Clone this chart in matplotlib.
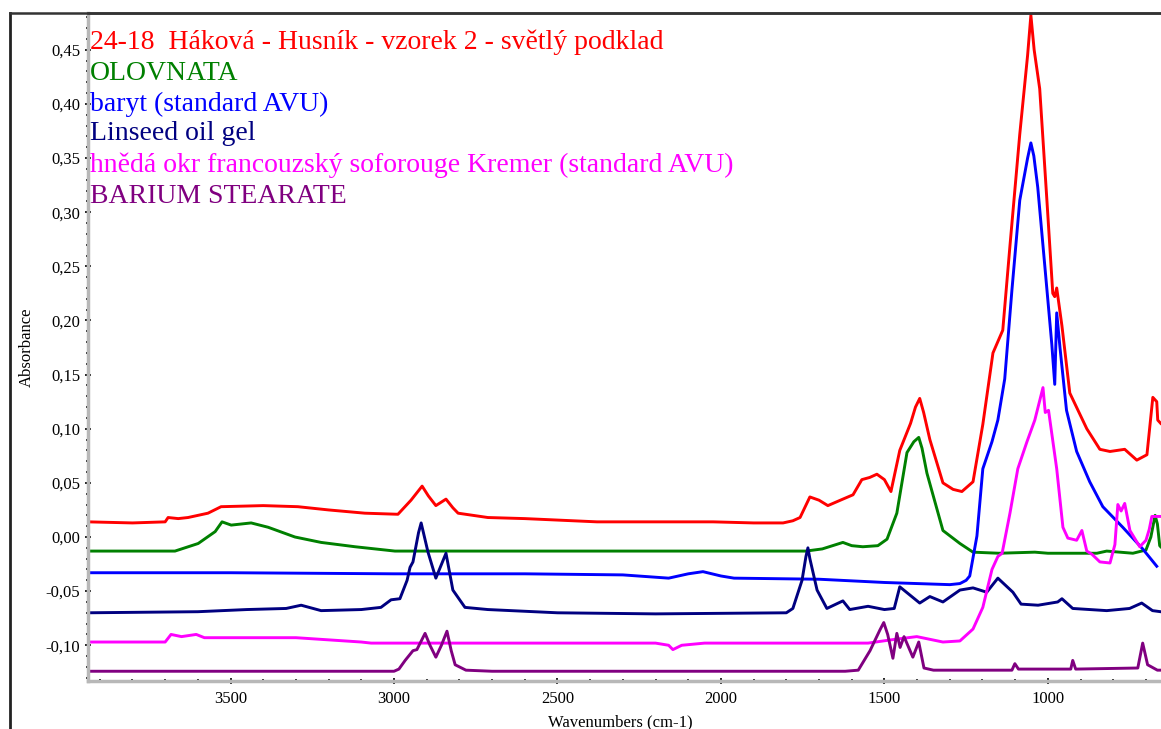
import matplotlib
matplotlib.use('Agg')
import matplotlib.pyplot as plt
from matplotlib.ticker import MultipleLocator, FuncFormatter
from matplotlib.lines import Line2D

plt.rcParams['font.family'] = ['Liberation Serif', 'DejaVu Serif']

# spectra: wavenumber (cm-1) / absorbance
red_w = [3936, 3800, 3700, 3691, 3660, 3630, 3569, 3529, 3400, 3294, 3200, 3089, 2988, 2948, 2914, 2895, 2872,
         2841, 2820, 2804, 2713, 2600, 2379, 2024, 1900, 1810, 1780, 1758, 1728, 1700, 1673, 1627, 1596, 1569,
         1545, 1523, 1500, 1480, 1453, 1420, 1405, 1392, 1380, 1361, 1321, 1290, 1263, 1229, 1199, 1168, 1138,
         1116, 1086, 1062, 1052, 1042, 1025, 1003, 985, 979, 973, 957, 933, 881, 841, 810, 765, 728, 697, 679,
         667, 664, 655]
red_a = [0.014, 0.013, 0.014, 0.018, 0.017, 0.018, 0.022, 0.028, 0.029, 0.028, 0.025, 0.022, 0.021, 0.034, 0.047,
         0.038, 0.029, 0.035, 0.027, 0.022, 0.018, 0.017, 0.014, 0.014, 0.013, 0.013, 0.015, 0.018, 0.037, 0.034,
         0.029, 0.035, 0.039, 0.053, 0.055, 0.058, 0.053, 0.042, 0.080, 0.105, 0.120, 0.128, 0.115, 0.090, 0.050,
         0.044, 0.042, 0.051, 0.104, 0.170, 0.191, 0.269, 0.372, 0.445, 0.482, 0.450, 0.414, 0.311, 0.225, 0.222,
         0.230, 0.195, 0.133, 0.100, 0.081, 0.079, 0.081, 0.071, 0.076, 0.129, 0.125, 0.108, 0.105]

green_w = [3936, 3670, 3599, 3547, 3526, 3498, 3437, 3385, 3303, 3223, 3119, 2997, 1740, 1690, 1627, 1600, 1566,
           1520, 1492, 1462, 1431, 1410, 1395, 1385, 1370, 1321, 1269, 1229, 1150, 1040, 1000, 850, 820, 740,
           700, 685, 672, 665, 658, 655]
green_a = [-0.013, -0.013, -0.006, 0.005, 0.014, 0.011, 0.013, 0.009, 0.000, -0.005, -0.009, -0.013, -0.013,
           -0.011, -0.005, -0.008, -0.009, -0.008, -0.002, 0.022, 0.078, 0.088, 0.092, 0.082, 0.059, 0.006,
           -0.006, -0.014, -0.015, -0.014, -0.015, -0.015, -0.013, -0.015, -0.012, 0.000, 0.020, 0.012, -0.008,
           -0.009]

blue_w = [3936, 3500, 3000, 2600, 2300, 2160, 2100, 2055, 2000, 1960, 1700, 1500, 1300, 1269, 1250, 1239, 1217,
          1199, 1171, 1153, 1132, 1110, 1086, 1062, 1052, 1043, 1031, 1009, 988, 979, 973, 963, 943, 912, 872,
          832, 771, 710, 667]
blue_a = [-0.033, -0.033, -0.034, -0.034, -0.035, -0.038, -0.034, -0.032, -0.036, -0.038, -0.039, -0.042,
          -0.044, -0.043, -0.040, -0.036, 0.001, 0.063, 0.088, 0.108, 0.146, 0.228, 0.311, 0.350, 0.364, 0.352,
          0.323, 0.249, 0.178, 0.141, 0.207, 0.175, 0.117, 0.079, 0.051, 0.028, 0.009, -0.011, -0.027]

navy_w = [3936, 3600, 3450, 3330, 3284, 3223, 3100, 3040, 3009, 2982, 2960, 2951, 2942, 2925, 2917, 2910, 2896,
          2872, 2841, 2820, 2783, 2713, 2500, 2200, 1800, 1780, 1752, 1740, 1734, 1728, 1706, 1676, 1627, 1606,
          1550, 1500, 1470, 1453, 1392, 1361, 1321, 1269, 1229, 1187, 1153, 1107, 1082, 1030, 970, 957, 924,
          820, 750, 713, 680, 655]
navy_a = [-0.070, -0.069, -0.067, -0.066, -0.063, -0.068, -0.067, -0.065, -0.058, -0.057, -0.040, -0.028,
          -0.023, 0.004, 0.013, 0.004, -0.014, -0.038, -0.015, -0.049, -0.065, -0.067, -0.070, -0.071, -0.070,
          -0.066, -0.040, -0.018, -0.010, -0.020, -0.049, -0.066, -0.059, -0.067, -0.064, -0.067, -0.066,
          -0.046, -0.061, -0.055, -0.060, -0.049, -0.047, -0.051, -0.038, -0.051, -0.062, -0.063, -0.060,
          -0.057, -0.066, -0.068, -0.066, -0.061, -0.068, -0.069]

magenta_w = [3936, 3700, 3682, 3650, 3605, 3580, 3300, 3100, 3070, 2200, 2160, 2147, 2120, 2050, 1700, 1550,
             1480, 1401, 1321, 1269, 1229, 1199, 1171, 1153, 1140, 1116, 1092, 1064, 1040, 1015, 1008, 998, 973,
             954, 939, 912, 896, 881, 865, 841, 810, 795, 786, 776, 765, 749, 719, 700, 690, 682, 655]
magenta_a = [-0.097, -0.097, -0.090, -0.092, -0.090, -0.093, -0.093, -0.097, -0.098, -0.098, -0.100, -0.104,
             -0.100, -0.098, -0.098, -0.098, -0.095, -0.092, -0.097, -0.096, -0.085, -0.065, -0.030, -0.018,
             -0.015, 0.022, 0.063, 0.088, 0.108, 0.138, 0.115, 0.117, 0.063, 0.009, -0.001, -0.003, 0.006,
             -0.013, -0.016, -0.023, -0.024, -0.007, 0.030, 0.024, 0.031, 0.006, -0.009, -0.003, 0.007, 0.019,
             0.019]

purple_w = [3936, 3000, 2985, 2966, 2942, 2930, 2905, 2890, 2872, 2855, 2838, 2825, 2813, 2780, 2700, 1620,
            1580, 1544, 1514, 1502, 1490, 1474, 1462, 1452, 1440, 1413, 1395, 1379, 1350, 1110, 1101, 1090, 930,
            924, 915, 725, 710, 695, 665, 655]
purple_a = [-0.124, -0.124, -0.122, -0.114, -0.105, -0.104, -0.089, -0.100, -0.111, -0.100, -0.087, -0.105,
            -0.118, -0.123, -0.124, -0.124, -0.123, -0.105, -0.086, -0.079, -0.090, -0.112, -0.089, -0.102,
            -0.092, -0.111, -0.097, -0.121, -0.123, -0.123, -0.117, -0.122, -0.122, -0.114, -0.122, -0.121,
            -0.098, -0.118, -0.123, -0.123]

labels = ['24-18  Háková - Husník - vzorek 2 - světlý podklad',
          'OLOVNATA',
          'baryt (standard AVU)',
          'Linseed oil gel',
          'hnědá okr francouzský soforouge Kremer (standard AVU)',
          'BARIUM STEARATE']
colors = ['#ff0000', '#008000', '#0000ff', '#000080', '#ff00ff', '#800080']
series = [(red_w, red_a), (green_w, green_a), (blue_w, blue_a),
          (navy_w, navy_a), (magenta_w, magenta_a), (purple_w, purple_a)]

fig = plt.figure(figsize=(11.61, 7.29), dpi=100)
ax = fig.add_axes([88/1161, 1-681/729, 1-88/1161, (681-13)/729])

for (w, a), c in zip(series, colors):
    ax.plot(w, a, '-', color=c, lw=2.1)

ax.set_xlim(3936, 654)
ax.set_ylim(-0.133, 0.484)

ax.xaxis.set_major_locator(MultipleLocator(500))
ax.xaxis.set_minor_locator(MultipleLocator(100))
ax.yaxis.set_major_locator(MultipleLocator(0.05))
ax.yaxis.set_minor_locator(MultipleLocator(0.01))
ax.yaxis.set_major_formatter(FuncFormatter(lambda v, p: ('%.2f' % v).replace('.', ',').replace('-0,00', '0,00')))
ax.xaxis.set_major_formatter(FuncFormatter(lambda v, p: '%d' % v))
ax.tick_params(which='both', direction='inout', colors='black', labelsize=12, width=1.2)
ax.tick_params(which='major', length=5)
ax.tick_params(which='minor', length=3)
ax.tick_params(axis='y', pad=3)
ax.tick_params(axis='x', pad=5)

for s in ['left', 'bottom']:
    ax.spines[s].set_color('#b8b8b8')
    ax.spines[s].set_linewidth(2.5)
ax.spines['right'].set_visible(False)
ax.spines['top'].set_color('#333333')
ax.spines['top'].set_linewidth(1.8)

ytxt = [42, 73, 104, 134, 165, 197]
for t, c, yp in zip(labels, colors, ytxt):
    ax.text(2/1073, (681-yp)/668, t, color=c, fontsize=20, va='center', ha='left', transform=ax.transAxes)

fig.text(620/1161, 1-722/729, 'Wavenumbers (cm-1)', ha='center', va='center', fontsize=12)
fig.text(27/1161, 1-347/729, 'Absorbance', ha='center', va='center', rotation=90, fontsize=12)

# outer frame
fig.add_artist(Line2D([10/1161, 10/1161], [0, 1-13/729], color='#222222', lw=2, transform=fig.transFigure))
fig.add_artist(Line2D([10/1161, 1], [1-13/729, 1-13/729], color='#333333', lw=1.8, transform=fig.transFigure))

fig.savefig('out.png', dpi=100)
